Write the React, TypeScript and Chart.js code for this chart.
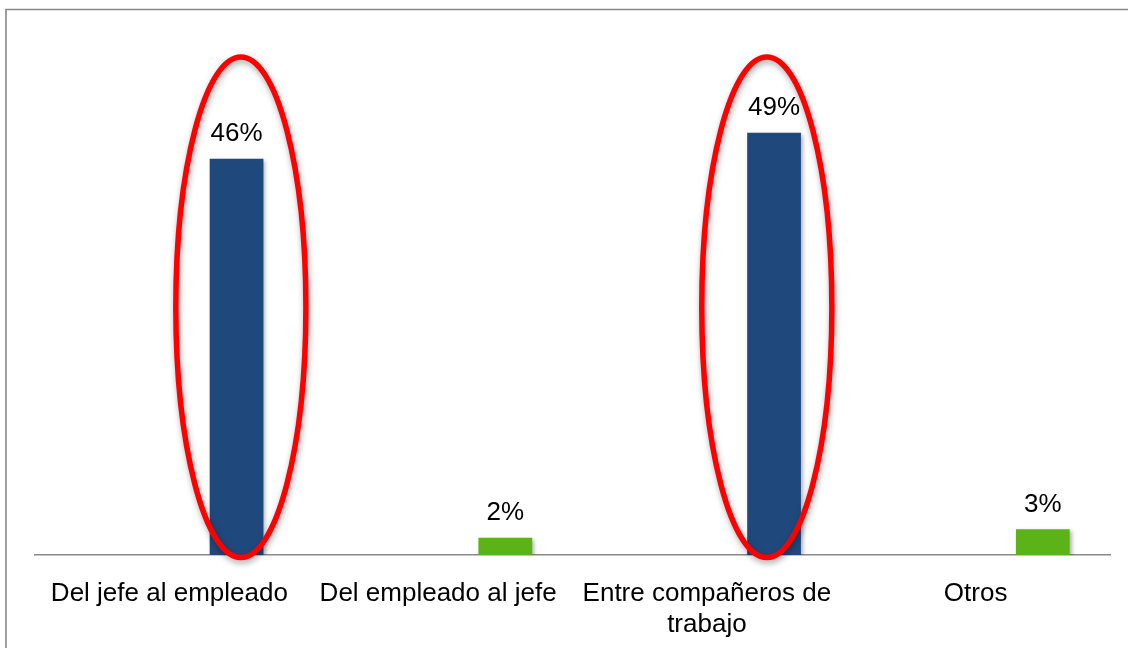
import React, { useEffect, useRef } from "react";
import { Chart, registerables } from "chart.js";

Chart.register(...registerables);

const categories: (string | string[])[] = [
  "Del jefe al empleado",
  "Del empleado al jefe",
  ["Entre compañeros de", "trabajo"],
  "Otros",
];
const values = [46, 2, 49, 3];
const spacer = [null, null, null, null];
const barColors = ["#1F497D", "#5CB317", "#1F497D", "#5CB317"];

// highlight ellipses (in scale units)
const ellipseCenters = [0.266, 2.223];
const ellipseHalfWidth = 0.242;
const ellipseTop = 57.8;
const ellipseBottom = -0.3;

const FONT = "'Liberation Sans', Arial, sans-serif";

export default function App() {
  const ref = useRef<HTMLCanvasElement | null>(null);

  useEffect(() => {
    if (!ref.current) return;

    const framePlugin = {
      id: "frame",
      beforeDraw(chart: any) {
        const ctx = chart.ctx;
        ctx.save();
        ctx.fillStyle = "#ffffff";
        ctx.fillRect(0, 0, chart.width, chart.height);
        ctx.strokeStyle = "#878787";
        ctx.lineWidth = 1.6;
        ctx.beginPath();
        ctx.moveTo(6, chart.height + 2);
        ctx.lineTo(6, 9.5);
        ctx.lineTo(chart.width + 2, 9.5);
        ctx.stroke();
        ctx.restore();
      },
    };

    const shadowPlugin = {
      id: "barShadow",
      beforeDatasetsDraw(chart: any) {
        const ctx = chart.ctx;
        ctx.save();
        ctx.shadowColor = "rgba(0,0,0,0.3)";
        ctx.shadowBlur = 4;
        ctx.shadowOffsetX = 2;
        ctx.shadowOffsetY = 2;
      },
      afterDatasetsDraw(chart: any) {
        chart.ctx.restore();
      },
    };

    const overlayPlugin = {
      id: "overlay",
      afterDatasetsDraw(chart: any) {
        const ctx = chart.ctx;
        const xs = chart.scales.x;
        const ys = chart.scales.y;
        // data labels
        const meta = chart.getDatasetMeta(1);
        ctx.save();
        ctx.font = `26px ${FONT}`;
        ctx.fillStyle = "#000000";
        ctx.textAlign = "center";
        ctx.textBaseline = "alphabetic";
        meta.data.forEach((el: any, i: number) => {
          ctx.fillText(`${values[i]}%`, el.x, el.y - 17.5);
        });
        ctx.restore();
        // ellipses
        ctx.save();
        ctx.strokeStyle = "#FF0000";
        ctx.lineWidth = 5.5;
        ctx.shadowColor = "rgba(0,0,0,0.35)";
        ctx.shadowBlur = 6;
        ctx.shadowOffsetX = 1;
        ctx.shadowOffsetY = 3;
        ellipseCenters.forEach((c) => {
          const cx = xs.getPixelForValue(c);
          const rx = xs.getPixelForValue(c + ellipseHalfWidth) - cx;
          const top = ys.getPixelForValue(ellipseTop);
          const bottom = ys.getPixelForValue(ellipseBottom);
          ctx.beginPath();
          ctx.ellipse(cx, (top + bottom) / 2, rx, (bottom - top) / 2, 0, 0, Math.PI * 2);
          ctx.stroke();
        });
        ctx.restore();
      },
    };

    const chart = new Chart(ref.current, {
      type: "bar",
      data: {
        labels: categories as any,
        datasets: [
          { label: "spacer", data: spacer as any, backgroundColor: "transparent" },
          { label: "valores", data: values, backgroundColor: barColors, borderWidth: 0 },
        ],
      },
      options: {
        responsive: false,
        animation: false,
        devicePixelRatio: 1,
        layout: { padding: { left: 35, right: 18, top: 38, bottom: 0 } },
        datasets: { bar: { barPercentage: 0.4, categoryPercentage: 1 } } as any,
        plugins: {
          legend: { display: false },
          tooltip: { enabled: false },
        },
        scales: {
          x: {
            grid: { display: false, drawTicks: false },
            border: { display: true, color: "#8a8a8a", width: 1.6 },
            ticks: {
              color: "#000000",
              padding: 24,
              maxRotation: 0,
              autoSkip: false,
              font: { family: FONT, size: 26, lineHeight: 1.17 },
            },
            afterFit(scale: any) {
              scale.height = 93;
            },
          },
          y: {
            display: false,
            min: 0,
            max: 60,
          },
        },
      },
      plugins: [framePlugin, shadowPlugin, overlayPlugin],
    });

    return () => chart.destroy();
  }, []);

  return (
    <div style={{ position: "fixed", left: 0, top: 0, width: 1128, height: 648 }}>
      <canvas ref={ref} width={1128} height={648} style={{ display: "block" }} />
    </div>
  );
}
